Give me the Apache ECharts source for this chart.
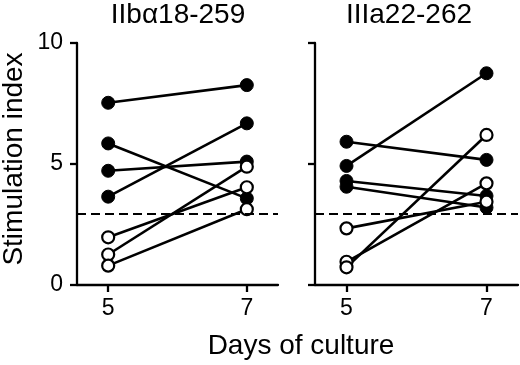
<!DOCTYPE html>
<html>
<head>
<meta charset="utf-8">
<script src="https://cdn.jsdelivr.net/npm/echarts@6/dist/echarts.min.js"></script>
<style>
html,body{margin:0;padding:0;background:#fff;}
#chart{width:520px;height:365px;}
</style>
</head>
<body>
<div id="chart"></div>
<script>
// ---- data ----
const days = [5, 7];
const panelTitles = ['IIbα18-259', 'IIIa22-262'];
const yTicks = [0, 5, 10];
const xTicks = [5, 7];
const yAxisTitle = 'Stimulation index';
const xAxisTitle = 'Days of culture';
const threshold = 2.95;

// Panel 1: IIbα18-259
const iibFilledDay5 = [7.53, 5.85, 4.72, 3.65];
const iibFilledDay7 = [8.26, 3.58, 5.10, 6.68];
const iibOpenDay5 = [1.97, 1.26, 0.80];
const iibOpenDay7 = [4.04, 4.89, 3.13];

// Panel 2: IIIa22-262
const iiiaFilledDay5 = [5.92, 4.92, 4.30, 4.06];
const iiiaFilledDay7 = [5.17, 8.75, 3.68, 3.20];
const iiiaOpenDay5 = [2.34, 0.96, 0.73];
const iiiaOpenDay7 = [3.44, 4.20, 6.20];

// ---- build ----
const FONT = "'Liberation Sans', Arial, Helvetica, sans-serif";
const series = [];
function addPairs(d5, d7, panel, filled) {
  for (let i = 0; i < d5.length; i++) {
    series.push({
      type: 'line',
      xAxisIndex: panel, yAxisIndex: panel,
      data: [[days[0], d5[i]], [days[1], d7[i]]],
      symbol: 'circle', symbolSize: filled ? 13 : 12,
      lineStyle: {color: '#000', width: 2.6},
      itemStyle: filled ? {color: '#000', borderColor: '#000', borderWidth: 1}
                        : {color: '#fff', borderColor: '#000', borderWidth: 2.2},
      z: filled ? 2 : 3,
      silent: true
    });
  }
}
addPairs(iibFilledDay5, iibFilledDay7, 0, true);
addPairs(iiiaFilledDay5, iiiaFilledDay7, 1, true);
addPairs(iibOpenDay5, iibOpenDay7, 0, false);
addPairs(iiiaOpenDay5, iiiaOpenDay7, 1, false);

[0, 1].forEach(p => {
  series.push({
    type: 'line', xAxisIndex: p, yAxisIndex: p, data: [],
    markLine: {
      silent: true, symbol: 'none',
      label: {show: false},
      lineStyle: {color: '#000', width: 2.2, type: [9, 5]},
      data: [{yAxis: threshold}]
    }
  });
});

const axisLine = {show: true, lineStyle: {color: '#000', width: 2.3}};
function xAxis(p) {
  return {
    type: 'value', gridIndex: p, min: 4.55, max: 7.45,
    axisLine: axisLine,
    axisTick: {show: true, length: 7, lineStyle: {color: '#000', width: 2.3}, customValues: xTicks},
    axisLabel: {show: true, customValues: xTicks, margin: 12, color: '#000', fontSize: 23, fontFamily: FONT},
    splitLine: {show: false}
  };
}
function yAxis(p) {
  return {
    type: 'value', gridIndex: p, min: yTicks[0], max: yTicks[yTicks.length - 1], interval: 5,
    axisLine: axisLine,
    axisTick: {show: true, length: 7, lineStyle: {color: '#000', width: 2.3}},
    axisLabel: {show: p === 0, margin: 14, color: '#000', fontSize: 23, fontFamily: FONT},
    splitLine: {show: false}
  };
}

const textStyle = {fill: '#000', fontSize: 28, fontFamily: FONT, align: 'center', verticalAlign: 'middle'};
const option = {
  animation: false,
  backgroundColor: '#fff',
  grid: [
    {left: 77, top: 43, width: 201, height: 242},
    {left: 315, top: 43, width: 203, height: 242}
  ],
  xAxis: [xAxis(0), xAxis(1)],
  yAxis: [yAxis(0), yAxis(1)],
  graphic: [
    {type: 'text', x: 178, y: 15, style: Object.assign({text: panelTitles[0]}, textStyle)},
    {type: 'text', x: 409, y: 15, style: Object.assign({text: panelTitles[1]}, textStyle)},
    {type: 'text', x: 301, y: 346, style: Object.assign({text: xAxisTitle}, textStyle)},
    {type: 'text', x: 14, y: 159, rotation: Math.PI / 2, style: Object.assign({text: yAxisTitle}, textStyle)}
  ],
  series: series
};
const chart = echarts.init(document.getElementById('chart'));
chart.setOption(option);
</script>
</body>
</html>
